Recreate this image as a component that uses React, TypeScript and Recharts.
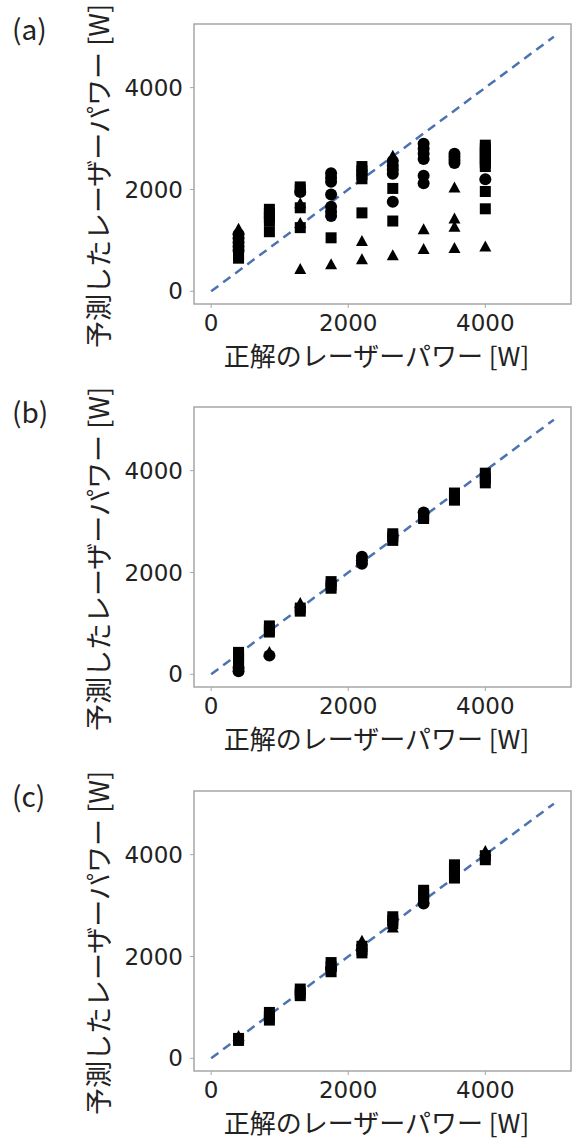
import React from 'react';
import {
  ScatterChart,
  Scatter,
  XAxis,
  YAxis,
  ReferenceLine,
  ReferenceArea,
  Label,
} from 'recharts';

type Pair = [number, number];

// true power (x) vs predicted power (y), one list per marker shape
const aCircles: Pair[] = [
  [400, 1120], [400, 1040], [400, 960], [400, 880], [400, 800],
  [1300, 1950],
  [1750, 2320], [1750, 2230], [1750, 2150], [1750, 1900], [1750, 1660], [1750, 1560], [1750, 1480],
  [2650, 2560], [2650, 2470], [2650, 2390], [2650, 2310], [2650, 1760],
  [3100, 2900], [3100, 2800], [3100, 2700], [3100, 2600], [3100, 2270], [3100, 2120],
  [3550, 2700], [3550, 2640], [3550, 2580], [3550, 2520],
  [4000, 2200],
];
const aSquares: Pair[] = [
  [400, 720], [400, 650],
  [850, 1610], [850, 1530], [850, 1450], [850, 1380], [850, 1170],
  [1300, 2050], [1300, 1990], [1300, 1640], [1300, 1250],
  [1750, 1050],
  [2200, 2450], [2200, 2370], [2200, 2290], [2200, 2210], [2200, 1540],
  [2650, 2020], [2650, 1380],
  [4000, 2870], [4000, 2800], [4000, 2730], [4000, 2660], [4000, 2590], [4000, 2520], [4000, 2450],
  [4000, 1960], [4000, 1620],
];
const aTriangles: Pair[] = [
  [400, 1220],
  [1300, 1720], [1300, 1330], [1300, 430],
  [1750, 520],
  [2200, 980], [2200, 620],
  [2650, 2650], [2650, 700],
  [3100, 1210], [3100, 820],
  [3550, 2030], [3550, 1420], [3550, 1260], [3550, 840],
  [4000, 870],
];

const bCircles: Pair[] = [
  [400, 130], [400, 60],
  [850, 370],
  [2200, 2310], [2200, 2240], [2200, 2170],
  [3100, 3180],
];
const bSquares: Pair[] = [
  [400, 430], [400, 360], [400, 290], [400, 210],
  [850, 950], [850, 880], [850, 830],
  [1300, 1300], [1300, 1240],
  [1750, 1820], [1750, 1750], [1750, 1690],
  [2650, 2760], [2650, 2700], [2650, 2630],
  [3100, 3120], [3100, 3060],
  [3550, 3560], [3550, 3480], [3550, 3420],
  [4000, 3950], [4000, 3850], [4000, 3760],
];
const bTriangles: Pair[] = [
  [850, 430],
  [1300, 1390],
];

const cCircles: Pair[] = [
  [1750, 1760],
  [3100, 3040],
];
const cSquares: Pair[] = [
  [400, 390], [400, 350],
  [850, 900], [850, 820], [850, 750],
  [1300, 1360], [1300, 1280], [1300, 1230],
  [1750, 1880], [1750, 1800], [1750, 1700],
  [2200, 2200], [2200, 2130], [2200, 2070],
  [2650, 2780], [2650, 2710], [2650, 2640],
  [3100, 3300], [3100, 3220], [3100, 3140],
  [3550, 3800], [3550, 3720], [3550, 3640], [3550, 3540],
  [4000, 3980], [4000, 3900],
];
const cTriangles: Pair[] = [
  [400, 430],
  [2200, 2300],
  [2650, 2560],
  [4000, 4060],
];

const ticks = [0, 2000, 4000];
const domain: [number, number] = [-250, 5250];
const xTitle = '正解のレーザーパワー [W]';
const yTitle = '予測したレーザーパワー [W]';

const toPts = (p: Pair[]) => p.map(([x, y]) => ({ x, y }));

const CircleMark = (p: any) => <circle cx={p.cx} cy={p.cy} r={6} fill="#000" />;
const SquareMark = (p: any) => <rect x={p.cx - 5.5} y={p.cy - 5.5} width={11} height={11} fill="#000" />;
const TriangleMark = (p: any) => (
  <path d={`M${p.cx},${p.cy - 6.5}L${p.cx + 6},${p.cy + 4.5}L${p.cx - 6},${p.cy + 4.5}Z`} fill="#000" />
);

const tickFont = { fill: '#222', fontSize: 23, fontFamily: "'DejaVu Sans', sans-serif" };
const labelFont = "'Noto Sans CJK JP', sans-serif";

function Panel({ tag, top, circles, squares, triangles }: {
  tag: string; top: number; circles: Pair[]; squares: Pair[]; triangles: Pair[];
}) {
  return (
    <div style={{ position: 'absolute', left: 0, top, width: 573, height: 380 }}>
      <div style={{ position: 'absolute', left: 12, top: 8, fontSize: 28, fontFamily: labelFont, color: '#222' }}>
        {tag}
      </div>
      <ScatterChart width={573} height={380} margin={{ top: 24, right: 2, bottom: 26, left: 124 }}>
        <ReferenceArea x1={domain[0]} x2={domain[1]} y1={domain[0]} y2={domain[1]}
          fill="none" stroke="#a6a6a6" strokeWidth={1.5} ifOverflow="visible" />
        <XAxis type="number" dataKey="x" domain={domain} ticks={ticks} allowDataOverflow
          height={50} axisLine={false} tickSize={4} tickMargin={7}
          tickLine={{ stroke: '#a6a6a6' }} tick={tickFont}>
          <Label content={({ viewBox }: any) => (
            <text x={viewBox.x + viewBox.width / 2 - 6} y={viewBox.y + 62} textAnchor="middle"
              fontSize={26} fontFamily={labelFont} fill="#222">{xTitle}</text>
          )} />
        </XAxis>
        <YAxis type="number" dataKey="y" domain={domain} ticks={ticks} allowDataOverflow
          width={70} axisLine={false} tickSize={4} tickMargin={7}
          tickLine={{ stroke: '#a6a6a6' }} tick={tickFont}>
          <Label content={({ viewBox }: any) => {
            const cx = 97;
            const cy = viewBox.y + viewBox.height / 2 + 12;
            return (
              <text x={cx} y={cy} transform={`rotate(-90 ${cx} ${cy})`} textAnchor="middle"
                dominantBaseline="central" fontSize={27} fontFamily={labelFont} fill="#222">{yTitle}</text>
            );
          }} />
        </YAxis>
        <ReferenceLine segment={[{ x: 0, y: 0 }, { x: 5000, y: 5000 }]}
          stroke="#4c72b0" strokeWidth={2.5} strokeDasharray="9 6" ifOverflow="visible" />
        <Scatter data={toPts(circles)} shape={CircleMark} isAnimationActive={false} />
        <Scatter data={toPts(squares)} shape={SquareMark} isAnimationActive={false} />
        <Scatter data={toPts(triangles)} shape={TriangleMark} isAnimationActive={false} />
      </ScatterChart>
    </div>
  );
}

export default function App() {
  return (
    <div style={{ position: 'absolute', left: 0, top: 0, width: 573, height: 1140, background: '#fff' }}>
      <Panel tag="(a)" top={0} circles={aCircles} squares={aSquares} triangles={aTriangles} />
      <Panel tag="(b)" top={383} circles={bCircles} squares={bSquares} triangles={bTriangles} />
      <Panel tag="(c)" top={767} circles={cCircles} squares={cSquares} triangles={cTriangles} />
    </div>
  );
}
